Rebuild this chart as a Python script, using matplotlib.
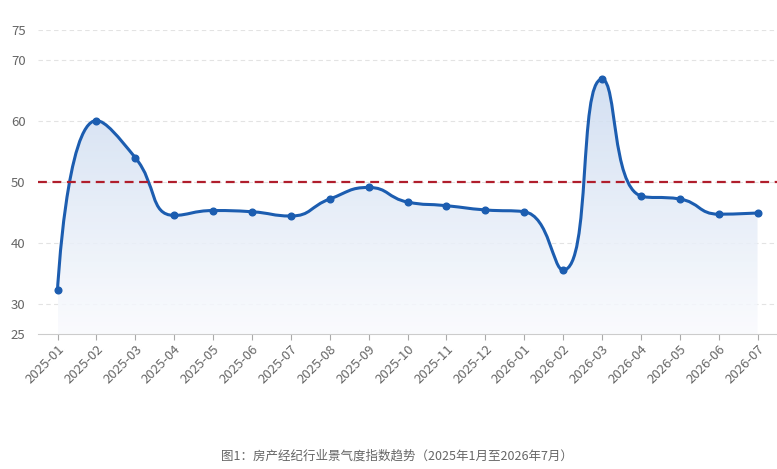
import numpy as np
import matplotlib
matplotlib.use("Agg")
import matplotlib.pyplot as plt
from matplotlib.path import Path
from matplotlib.patches import PathPatch

plt.rcParams['font.family'] = ['Noto Sans CJK SC', 'DejaVu Sans']

# 数据
months = ["2025-01", "2025-02", "2025-03", "2025-04", "2025-05", "2025-06",
          "2025-07", "2025-08", "2025-09", "2025-10", "2025-11", "2025-12",
          "2026-01", "2026-02", "2026-03", "2026-04", "2026-05", "2026-06",
          "2026-07"]
index_values = [32.3, 60.1, 54.0, 44.5, 45.3, 45.1, 44.4, 47.2, 49.1, 46.7,
                46.1, 45.4, 45.1, 35.5, 66.9, 47.7, 47.2, 44.7, 44.9]
y_ticks = [25, 30, 40, 50, 60, 70, 75]
threshold = 50
caption = "图1：房产经纪行业景气度指数趋势（2025年1月至2026年7月）"

line_color = "#1c5db0"
red = "#b01e2c"


def smooth_path(xs, ys, sx, sy, smooth=0.5):
    # сглаживание как в echarts: безье с ограничением контрольных точек
    px = [x * sx for x in xs]
    py = [y * sy for y in ys]
    n = len(px)
    verts = [(px[0], py[0])]
    codes = [Path.MOVETO]
    cpx0, cpy0 = px[0], py[0]
    for k in range(1, n):
        x, y = px[k], py[k]
        prevX, prevY = px[k - 1], py[k - 1]
        if k >= n - 1:
            cpx1, cpy1 = x, y
            ncx, ncy = x, y
        else:
            nextX, nextY = px[k + 1], py[k + 1]
            vx = nextX - prevX
            vy = nextY - prevY
            lp = np.hypot(x - prevX, y - prevY)
            ln = np.hypot(nextX - x, nextY - y)
            r = ln / (ln + lp)
            ncx = x + vx * smooth * r
            ncy = y + vy * smooth * r
            ncx = max(min(ncx, max(nextX, x)), min(nextX, x))
            ncy = max(min(ncy, max(nextY, y)), min(nextY, y))
            vx = ncx - x
            vy = ncy - y
            cpx1 = x - vx * lp / ln
            cpy1 = y - vy * lp / ln
            cpx1 = max(min(cpx1, max(prevX, x)), min(prevX, x))
            cpy1 = max(min(cpy1, max(prevY, y)), min(prevY, y))
            vx = x - cpx1
            vy = y - cpy1
            ncx = x + vx * ln / lp
            ncy = y + vy * ln / lp
        verts += [(cpx0, cpy0), (cpx1, cpy1), (x, y)]
        codes += [Path.CURVE4] * 3
        cpx0, cpy0 = ncx, ncy
    verts = [(a / sx, b / sy) for a, b in verts]
    return verts, codes


xs = np.arange(len(months))
verts, codes = smooth_path(xs, index_values, 38.9, 6.1)

fig = plt.figure(figsize=(7.77, 4.69), dpi=100)
ax = fig.add_axes([0.049, 0.288, 0.951, 0.648])
ax.set_xlim(-0.5, len(months) - 0.5)
ax.set_ylim(25, 75)

# заливка с градиентом
area_verts = verts + [(xs[-1], 25), (xs[0], 25), verts[0]]
area_codes = codes + [Path.LINETO, Path.LINETO, Path.CLOSEPOLY]
area = PathPatch(Path(area_verts, area_codes), facecolor="none", edgecolor="none")
ax.add_patch(area)
grad = np.zeros((256, 1, 4))
top_c = np.array(matplotlib.colors.to_rgb("#ccdbf0"))
bot_c = np.array(matplotlib.colors.to_rgb("#fafbfe"))
t = np.linspace(0, 1, 256)[:, None]
grad[:, 0, :3] = top_c * (1 - t) + bot_c * t
grad[:, 0, 3] = 0.85
im = ax.imshow(grad, extent=[xs[0], xs[-1], 25, max(index_values)],
               aspect="auto", origin="upper", zorder=1)
im.set_clip_path(area)

line = PathPatch(Path(verts, codes), facecolor="none", edgecolor=line_color,
                 linewidth=2.2, zorder=3, capstyle="round")
ax.add_patch(line)
ax.plot(xs, index_values, "o", color=line_color, markersize=4.8, zorder=4)

ax.axhline(threshold, color=red, linestyle=(0, (4, 2.5)), linewidth=1.6, zorder=5)

ax.set_yticks(y_ticks)
ax.set_yticklabels([str(v) for v in y_ticks])
for v in y_ticks:
    if v != 25:
        ax.axhline(v, color="#e3e3e3", linestyle=(0, (4, 3)), linewidth=0.8, zorder=0)

ax.set_xticks(xs)
ax.set_xticklabels(months, rotation=45, ha="right", rotation_mode="anchor")
ax.tick_params(axis="x", colors="#aaaaaa", labelcolor="#666666", length=4,
               labelsize=9.5, pad=2)
ax.tick_params(axis="y", length=0, labelcolor="#666666", labelsize=9.5, pad=9)

for s in ["top", "right", "left"]:
    ax.spines[s].set_visible(False)
ax.spines["bottom"].set_color("#cccccc")

fig.text(0.511, 0.027, caption, ha="center", va="center", fontsize=9, color="#666666")

fig.savefig("out.png", dpi=100)
